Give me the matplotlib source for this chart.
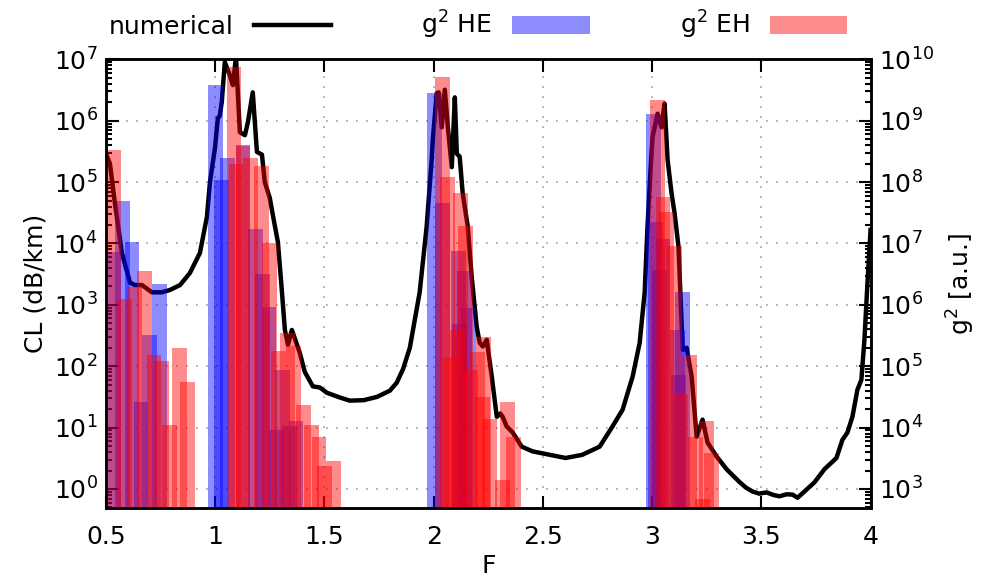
import matplotlib
matplotlib.use("Agg")
import matplotlib.pyplot as plt
from matplotlib.patches import Patch
from matplotlib.lines import Line2D

plt.rcParams['font.family'] = ['DejaVu Sans']
plt.rcParams['font.size'] = 18

# numerical confinement loss curve
F_num = [0.500, 0.518, 0.541, 0.573, 0.610, 0.633, 0.665, 0.710, 0.756, 0.793, 0.839, 0.884,
         0.930, 0.962, 0.976, 0.999, 1.012, 1.021, 1.030, 1.044, 1.067, 1.081, 1.095, 1.113,
         1.136, 1.150, 1.172, 1.191, 1.214, 1.227, 1.250, 1.264, 1.287, 1.301, 1.319, 1.333,
         1.351, 1.387, 1.410, 1.447, 1.479, 1.511, 1.570, 1.616, 1.680, 1.740, 1.800, 1.831,
         1.860, 1.891, 1.915, 1.936, 1.968, 1.991, 1.996, 2.014, 2.023, 2.037, 2.051, 2.065,
         2.083, 2.097, 2.106, 2.119, 2.133, 2.156, 2.174, 2.197, 2.211, 2.225, 2.243, 2.266,
         2.289, 2.305, 2.316, 2.334, 2.362, 2.403, 2.453, 2.531, 2.604, 2.680, 2.760, 2.819,
         2.865, 2.911, 2.943, 2.966, 2.979, 2.993, 3.002, 3.025, 3.043, 3.057, 3.071, 3.089,
         3.103, 3.121, 3.140, 3.158, 3.181, 3.204, 3.231, 3.254, 3.295, 3.341, 3.400, 3.430,
         3.460, 3.490, 3.524, 3.555, 3.583, 3.615, 3.643, 3.666, 3.707, 3.743, 3.789, 3.844,
         3.871, 3.894, 3.917, 3.940, 3.958, 3.972, 3.986, 4.000]
CL_num = [2.9e5, 2.0e5, 4.5e4, 7.0e3, 2.3e3, 2.1e3, 2.1e3, 1.6e3, 1.6e3, 1.75e3, 2.1e3, 3.3e3,
          7.0e3, 2.7e4, 1.0e5, 3.6e5, 1.1e6, 1.2e6, 2.0e6, 9.0e6, 5.5e6, 3.8e6, 1.1e7, 6.5e5,
          5.8e5, 9.6e5, 2.9e6, 3.1e5, 2.8e5, 1.0e5, 5.5e4, 2.9e4, 1.05e4, 2.6e3, 390, 224,
          390, 166, 81, 47, 45, 37, 31, 27.5, 28, 31.6, 40, 54,
          90, 200, 600, 1.6e3, 1.9e4, 2.3e5, 4.8e5, 2.8e6, 2.9e6, 7.8e5, 3.2e6, 7.8e5,
          1.75e5, 2.4e6, 2.9e5, 2.6e5, 6.6e4, 1.9e4, 2.9e3, 440, 240, 210, 270, 68,
          15, 17, 15, 10.5, 8.3, 4.9, 4.1, 3.6, 3.2, 3.6, 4.9, 10.5,
          19.6, 68, 240, 1.6e3, 1.9e4, 1.6e5, 5.4e5, 1.3e6, 7.8e5, 1.9e6, 2.3e5, 6.6e4,
          3.1e4, 8.8e3, 185, 200, 68, 7.1, 13.5, 5.7, 3.4, 2.1, 1.3, 1.05,
          0.91, 0.84, 0.88, 0.80, 0.76, 0.82, 0.81, 0.72, 0.98, 1.28, 2.1, 3.2,
          6.3, 8.3, 15, 41.5, 60, 270, 2.3e3, 1.66e4]

# g^2 overlap factors, HE modes
F_HE = [0.534, 0.575, 0.619, 0.660, 0.700, 0.745,
        1.003, 1.030, 1.058, 1.127, 1.186, 1.218, 1.246, 1.280, 1.310, 1.340, 1.370,
        2.005, 2.040, 2.115, 2.120, 2.140, 2.160,
        3.007, 3.016, 3.035, 3.050, 3.117, 3.120, 3.140]
g2_HE = [7.2e6, 4.9e7, 1.05e7, 2.6e4, 3.2e5, 2.2e6,
         3.8e9, 1.1e8, 2.5e8, 4.0e8, 1.7e7, 3.2e6, 9.3e5, 9.3e3, 8.7e4, 1.05e4, 1.3e4,
         2.8e9, 4.6e7, 7.6e6, 4.9e5, 3.5e6, 8.9e5,
         1.3e9, 2.2e7, 3.7e6, 1.2e7, 3.9e5, 7.2e4, 1.6e6]

# g^2 overlap factors, EH modes
F_EH = [0.534, 0.585, 0.630, 0.676, 0.720, 0.756, 0.790, 0.838, 0.873,
        1.086, 1.095, 1.127, 1.160, 1.210, 1.250, 1.290, 1.330, 1.360, 1.406, 1.440,
        1.475, 1.500, 1.540,
        2.040, 2.065, 2.078, 2.110, 2.124, 2.147, 2.170, 2.200, 2.225, 2.230, 2.257,
        2.316, 2.340, 2.366,
        3.025, 3.050, 3.066, 3.103, 3.130, 3.170, 3.200, 3.230, 3.250, 3.270]
g2_EH = [3.3e8, 1.26e6, 1.95e6, 3.5e6, 1.5e5, 1.2e5, 1.1e4, 2.0e5, 5.6e4,
         7.4e9, 2.0e8, 3.8e8, 2.5e8, 1.8e8, 1.0e7, 1.8e5, 3.5e5, 2.1e5, 2.3e4, 1.1e4,
         7.1e3, 2.4e3, 2.9e3,
         5.2e9, 1.2e8, 1.4e5, 3.9e5, 6.6e7, 1.9e7, 8.7e4, 1.7e5, 3.2e4, 3.0e5, 1.4e4,
         1.4e3, 2.6e4, 7.1e3,
         2.2e9, 5.8e7, 3.2e7, 9.1e6, 3.5e4, 1.5e5, 7.1e3, 680, 1.26e4, 3.9e3]

xticks = [0.5, 1, 1.5, 2, 2.5, 3, 3.5, 4]
xticklabels = ['0.5', '1', '1.5', '2', '2.5', '3', '3.5', '4']

fig = plt.figure(figsize=(9.84, 5.85), dpi=100)
ax1 = fig.add_axes([0.1077, 0.1316, 0.777, 0.767])
ax2 = ax1.twinx()

ax1.plot(F_num, CL_num, color='black', lw=3.2, solid_joinstyle='round')
ax1.set_yscale('log')
ax1.set_ylim(0.49, 1e7)
ax1.set_xlim(0.5, 4)
ax1.set_xticks(xticks)
ax1.set_xticklabels(xticklabels)
ax1.grid(True, which='major', color='#a0a0a0', linestyle=(0, (1, 5)), lw=1.2)
ax1.tick_params(which='both', direction='in', top=True, right=False, width=1.5)
ax1.tick_params(which='major', length=9, pad=6)
ax1.tick_params(axis='x', which='major', pad=12)
ax1.tick_params(which='minor', length=4)
ax1.set_xlabel('F', labelpad=4)
ax1.set_ylabel('CL (dB/km)', labelpad=4)

w = 0.068
ax2.bar(F_HE, g2_HE, width=w, bottom=1, color='blue', alpha=0.45, linewidth=0)
ax2.bar(F_EH, g2_EH, width=w, bottom=1, color='red', alpha=0.45, linewidth=0)
ax2.set_yscale('log')
ax2.set_ylim(490, 1e10)
ax2.set_xlim(0.5, 4)
ax2.tick_params(axis='x', which='both', bottom=False, top=False,
                labelbottom=False, labeltop=False)
ax2.tick_params(axis='y', which='both', direction='in', width=1.5)
ax2.tick_params(axis='y', which='major', length=9, pad=6)
ax2.tick_params(axis='y', which='minor', length=4)
ax2.set_ylabel('g$^2$ [a.u.]', labelpad=8)

for ax in (ax1, ax2):
    for s in ax.spines.values():
        s.set_linewidth(1.8)

handles = [Line2D([], [], color='black', lw=3.2),
           Patch(facecolor='blue', alpha=0.45, linewidth=0),
           Patch(facecolor='red', alpha=0.45, linewidth=0)]
labels = ['numerical', 'g$^2$ HE', 'g$^2$ EH']
fig.legend(handles, labels, loc='center', bbox_to_anchor=(0.486, 0.957), ncol=3,
           frameon=False, markerfirst=False, handlelength=3.1, handletextpad=0.8,
           columnspacing=3.6, borderaxespad=0)

fig.savefig('out.png', dpi=100)
